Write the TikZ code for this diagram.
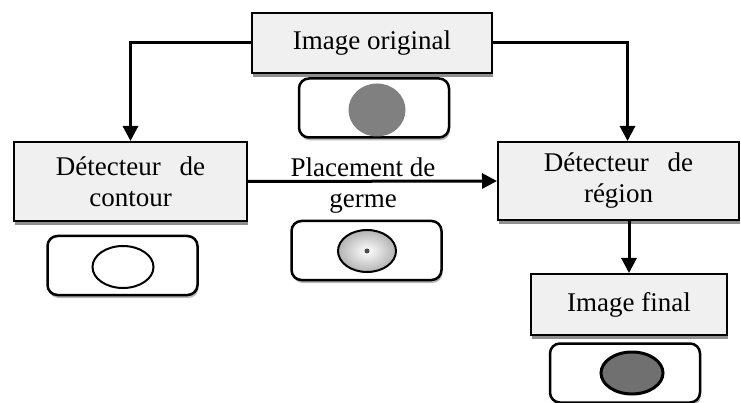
\documentclass[tikz,border=0pt]{standalone}
\usepackage{fontspec}
\setmainfont{Liberation Serif}
\usepackage{xcolor}
\definecolor{myboxgray}{RGB}{240,240,240}
\definecolor{mydiskgray}{RGB}{128,128,128}
\definecolor{myfinalgray}{RGB}{112,112,112}
\usetikzlibrary{arrows.meta,shapes.geometric,shadows,positioning}

\begin{document}
\begin{tikzpicture}[
  x=1pt,y=-1pt,
  line width=2pt,
  font=\fontsize{27}{31}\selectfont,
  mybox/.style={
    draw,
    fill=myboxgray,
    rectangle,
    align=center,
    drop shadow={shadow xshift=1pt,shadow yshift=-4pt,fill=black!55,opacity=.8}
    },
  mythumb/.style={
    draw,
    fill=white,
    rounded corners=10pt,
    line width=2.5pt,
    minimum width=150pt,
    minimum height=59pt,
    drop shadow={shadow xshift=1pt,shadow yshift=-3pt,fill=black!40,opacity=.7}
    },
  myspot/.style={
    ellipse,
    inner sep=0pt
    },
  myarrow/.style={
    line width=3pt,
    -{Triangle[length=15pt,width=15pt]}
    }
]
\useasboundingbox (0,0) rectangle (741,403);

% boxes
\node[mybox, minimum width=240pt, minimum height=60pt] (orig) at (372,43) {Image original};
\node[mybox, minimum width=233pt, minimum height=79pt] (contour) at (130.5,181.5) {Détecteur\hspace{.7em}de\\contour};
\node[mybox, minimum width=241pt, minimum height=78pt] (region) at (618.5,181) {Détecteur\hspace{.7em}de\\région};
\node[mybox, minimum width=196pt, minimum height=61pt] (final) at (629,304.5) {Image final};

% thumbnails
\node[mythumb] (origthumb) at (374,108) {};
\node[myspot, fill=mydiskgray, minimum width=57pt, minimum height=53pt] (origdisk) at (377,110) {};

\node[mythumb] (contourthumb) at (122.5,265.5) {};
\node[myspot, draw, fill=white, minimum width=61pt, minimum height=42pt] (contourring) at (123,267) {};

\node[mythumb] (seedthumb) at (366.5,250.5) {};
\node[myspot, draw, shading=radial, inner color=white, outer color=black!30,
  minimum width=58pt, minimum height=42pt] (seedspot) at (367,251) {};
\fill[black!70] (seedspot.center) circle (2.5pt);

\node[mythumb] (finalthumb) at (625,373) {};
\node[myspot, draw, line width=3pt, fill=myfinalgray, minimum width=62pt, minimum height=42pt] (finalspot) at (632,373) {};

% connectors
\draw[myarrow] (orig.west) -| (contour.north);
\draw[myarrow] (orig.east) -| ([xshift=9pt]region.north);
\draw[myarrow] (contour.east) -- (region.west);
\draw[myarrow] (region.south -| final.north) -- (final.north);

\node[align=center] (seedlabel) at (363,186) {Placement de\\germe};

\end{tikzpicture}
\end{document}
